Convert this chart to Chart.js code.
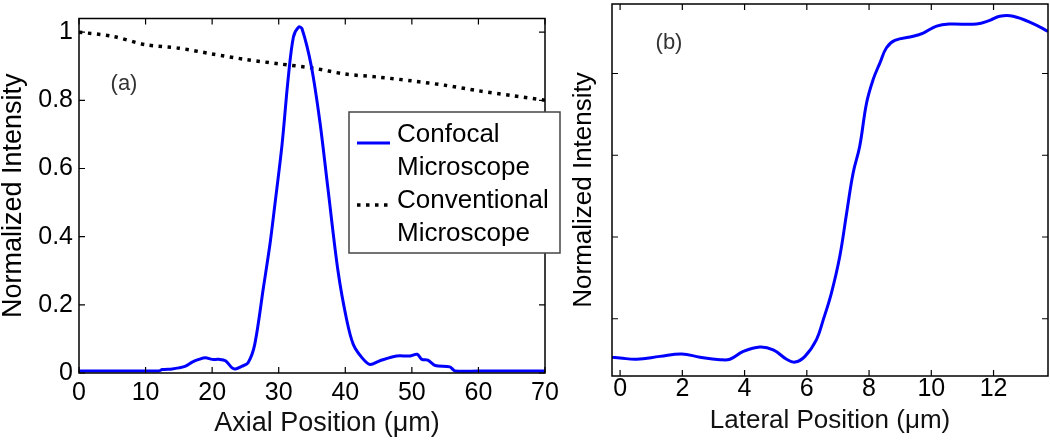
<!DOCTYPE html>
<html>
<head>
<meta charset="utf-8">
<script src="https://cdn.jsdelivr.net/npm/chart.js@4.4.1/dist/chart.umd.min.js"></script>
<style>
  body { margin: 0; background: #fff; }
  #wrap { position: relative; width: 1050px; height: 442px; }
  canvas { position: absolute; top: 0; }
</style>
</head>
<body>
<div id="wrap">
  <canvas id="chartA" width="580" height="442" style="left:0;width:580px;height:442px"></canvas>
  <canvas id="chartB" width="490" height="442" style="left:560px;width:490px;height:442px"></canvas>
</div>
<script>
// panel (a) - axial scan
const axialPos = [0,5,10,12,12.5,14,15,16,17,18,19,20,21,22,23,23.5,24.5,25.4,26.4,27.7,28.7,29.4,30.5,31.4,32.2,33,33.5,34.9,36.2,37.4,38.9,40.2,41.2,42.5,43.7,45.2,47.7,49.7,50.8,51.5,52.4,53.5,55.7,56.5,60,70];
const confocalA = [0.006,0.006,0.006,0.006,0.01,0.012,0.015,0.02,0.032,0.04,0.045,0.04,0.04,0.036,0.015,0.012,0.02,0.03,0.084,0.25,0.38,0.49,0.67,0.86,0.985,1.015,1.01,0.90,0.735,0.54,0.30,0.157,0.084,0.045,0.025,0.036,0.05,0.05,0.055,0.04,0.038,0.022,0.018,0.006,0.006,0.006];
const convPos = [0,5,10,15,20,25,30,35,40,45,50,55,60,65,70];
const conventionalA = [1.0,0.988,0.963,0.953,0.936,0.920,0.907,0.895,0.877,0.868,0.857,0.844,0.828,0.814,0.80];
const xTicksA = [0,10,20,30,40,50,60,70];
const yTicksA = [0,0.2,0.4,0.6,0.8,1];

// panel (b) - lateral edge scan
const lateralPos = [-0.27,0,0.53,1.28,1.98,2.57,3.21,3.53,3.96,4.49,4.92,5.35,5.62,5.94,6.31,6.53,6.79,7.06,7.28,7.49,7.70,7.92,8.13,8.35,8.56,8.83,9.42,9.74,10.17,10.59,11.45,11.88,12.2,12.63,13.27,13.75];
const confocalB = [0.106,0.104,0.101,0.108,0.114,0.106,0.10,0.101,0.12,0.131,0.124,0.101,0.094,0.108,0.149,0.198,0.263,0.353,0.459,0.557,0.622,0.728,0.785,0.826,0.863,0.881,0.891,0.899,0.916,0.921,0.921,0.930,0.940,0.940,0.922,0.903];
const xTicksB = [0,2,4,6,8,10,12];
const yTicksB = [0.2,0.4,0.6,0.8];

const FONT = "'Liberation Sans', Arial, sans-serif";
const BLUE = "#0000ff";
const DOTS = [3.5, 5.5];

function pts(xs, ys) { return xs.map((x, i) => ({x: x, y: ys[i]})); }

// box frame + inward ticks on all four sides, panel letter, optional legend / x title
const framePlugin = {
  id: 'framePlugin',
  afterDraw(chart, args, opts) {
    const ctx = chart.ctx, a = chart.chartArea, sx = chart.scales.x, sy = chart.scales.y;
    ctx.save();
    ctx.strokeStyle = "#000";
    ctx.lineWidth = 1.5;
    ctx.strokeRect(a.left, a.top, a.right - a.left, a.bottom - a.top);
    ctx.lineWidth = 1.2;
    ctx.beginPath();
    sx.ticks.forEach(t => {
      const px = sx.getPixelForValue(t.value);
      ctx.moveTo(px, a.bottom); ctx.lineTo(px, a.bottom - 6);
      ctx.moveTo(px, a.top); ctx.lineTo(px, a.top + 6);
    });
    sy.ticks.forEach(t => {
      const py = sy.getPixelForValue(t.value);
      ctx.moveTo(a.left, py); ctx.lineTo(a.left + 6, py);
      ctx.moveTo(a.right, py); ctx.lineTo(a.right - 6, py);
    });
    ctx.stroke();
    // panel letter
    ctx.fillStyle = "#333";
    ctx.font = "22px " + FONT;
    ctx.textAlign = "center";
    ctx.textBaseline = "middle";
    ctx.fillText(opts.label, opts.lx, opts.ly);
    // x title placed off-centre like the original
    if (opts.xTitle) {
      ctx.fillStyle = "#111";
      ctx.font = "27px " + FONT;
      ctx.fillText(opts.xTitle.text, opts.xTitle.x, opts.xTitle.y);
    }
    // legend box
    if (opts.legend) {
      const L = opts.legend;
      ctx.fillStyle = "#fff";
      ctx.fillRect(L.x, L.y, L.w, L.h);
      ctx.strokeStyle = "#444";
      ctx.lineWidth = 1.5;
      ctx.strokeRect(L.x, L.y, L.w, L.h);
      ctx.font = "26px " + FONT;
      ctx.textAlign = "left";
      ctx.textBaseline = "alphabetic";
      ctx.fillStyle = "#000";
      chart.data.datasets.forEach((ds, i) => {
        const base = L.y + 30 + i * 66;
        const ly = base + 1 - (i ? 4 : 0);
        ctx.save();
        ctx.strokeStyle = ds.borderColor;
        ctx.lineWidth = ds.borderWidth;
        ctx.setLineDash(ds.borderDash || []);
        ctx.beginPath();
        ctx.moveTo(L.x + 8, ly);
        ctx.lineTo(L.x + 41, ly);
        ctx.stroke();
        ctx.restore();
        ds.label.split("\n").forEach((s, j) => ctx.fillText(s, L.x + 48, base + j * 33));
      });
    }
    ctx.restore();
  }
};

function tickFont() { return {family: FONT, size: 25, lineHeight: 1}; }

new Chart(document.getElementById("chartA"), {
  type: "line",
  data: {
    datasets: [
      {label: "Confocal\nMicroscope", data: pts(axialPos, confocalA), borderColor: BLUE, borderWidth: 3, pointRadius: 0, tension: 0.3},
      {label: "Conventional\nMicroscope", data: pts(convPos, conventionalA), borderColor: "#000", borderWidth: 3.5, borderDash: DOTS, pointRadius: 0, tension: 0.3}
    ]
  },
  options: {
    responsive: false, animation: false, devicePixelRatio: 1,
    layout: {padding: {left: 0, right: 35, top: 1, bottom: 0}},
    plugins: {
      legend: {display: false}, tooltip: {enabled: false},
      framePlugin: {label: "(a)", lx: 124, ly: 84,
                    xTitle: {text: "Axial Position (μm)", x: 327, y: 424},
                    legend: {x: 349, y: 112, w: 211, h: 141}}
    },
    scales: {
      x: {
        type: "linear", min: 0, max: 70,
        afterBuildTicks: s => { s.ticks = xTicksA.map(v => ({value: v})); },
        afterFit: s => { s.height = 69; },
        grid: {display: false, drawTicks: false}, border: {display: false},
        ticks: {font: tickFont(), color: "#000", padding: 8, maxRotation: 0}
      },
      y: {
        min: 0, max: 1.04,
        afterBuildTicks: s => { s.ticks = yTicksA.map(v => ({value: v})); },
        afterFit: s => { s.width = 79; },
        grid: {display: false, drawTicks: false}, border: {display: false},
        ticks: {font: tickFont(), color: "#000", padding: 6, callback: v => String(v)},
        title: {display: true, text: "Normalized Intensity", color: "#000",
                font: {family: FONT, size: 27, lineHeight: 1}, padding: {top: 0.5, bottom: 0}}
      }
    }
  },
  plugins: [framePlugin]
});

new Chart(document.getElementById("chartB"), {
  type: "line",
  data: {
    datasets: [
      {label: "Confocal", data: pts(lateralPos, confocalB), borderColor: BLUE, borderWidth: 3, pointRadius: 0, tension: 0.4}
    ]
  },
  options: {
    responsive: false, animation: false, devicePixelRatio: 1,
    layout: {padding: {left: 0, right: 2, top: 4, bottom: 0}},
    plugins: {
      legend: {display: false}, tooltip: {enabled: false},
      framePlugin: {label: "(b)", lx: 109, ly: 43}
    },
    scales: {
      x: {
        type: "linear", min: -0.26, max: 13.75,
        afterBuildTicks: s => { s.ticks = xTicksB.map(v => ({value: v})); },
        afterFit: s => { s.height = 66; },
        grid: {display: false, drawTicks: false}, border: {display: false},
        ticks: {font: tickFont(), color: "#000", padding: 1, maxRotation: 0},
        title: {display: true, text: "Lateral Position (μm)", color: "#111",
                font: {family: FONT, size: 26, lineHeight: 1}, padding: {top: 0, bottom: 8}}
      },
      y: {
        min: 0.06, max: 0.97,
        afterBuildTicks: s => { s.ticks = yTicksB.map(v => ({value: v})); },
        afterFit: s => { s.width = 52; },
        grid: {display: false, drawTicks: false}, border: {display: false},
        ticks: {display: false},
        title: {display: true, text: "Normalized Intensity", color: "#000",
                font: {family: FONT, size: 26, lineHeight: 1}, padding: {top: 11, bottom: 0}}
      }
    }
  },
  plugins: [framePlugin]
});
</script>
</body>
</html>
